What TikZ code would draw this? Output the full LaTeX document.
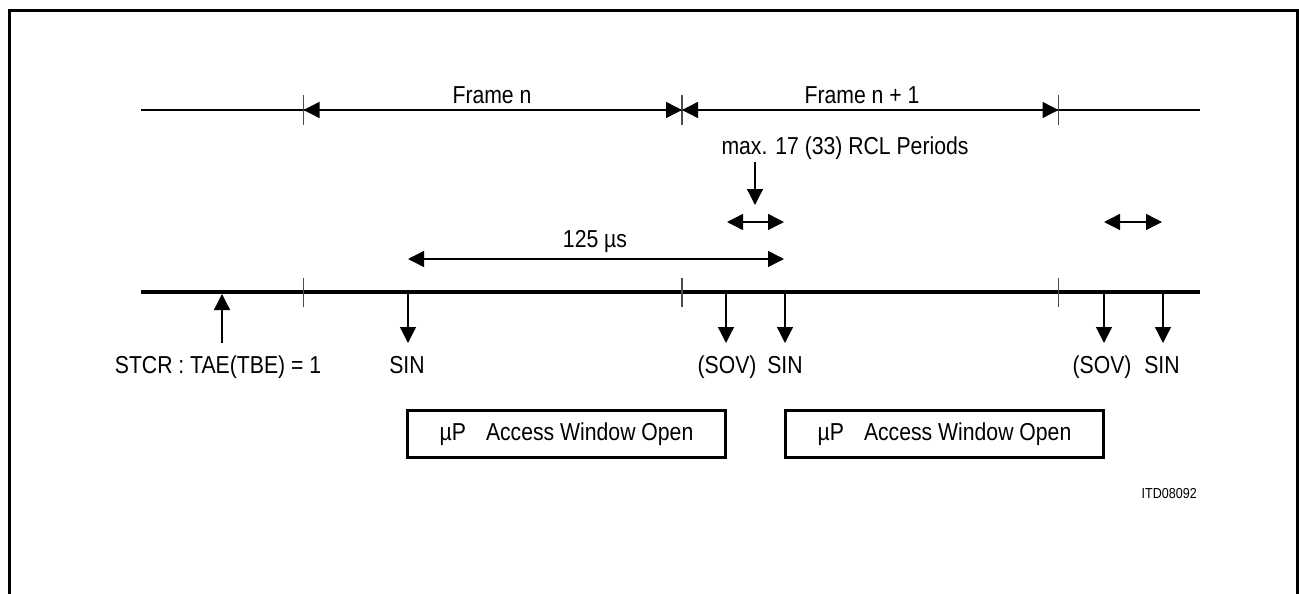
\documentclass[tikz,border=0pt]{standalone}
\usepackage{fontspec}
\setmainfont[FakeStretch=0.865]{Liberation Sans}
\usetikzlibrary{arrows.meta}
\begin{document}
\begin{tikzpicture}[x=1pt,y=-1pt,
  lbl/.style={font=\fontsize{24.5}{29}\selectfont, inner sep=0pt, anchor=base},
  smalllbl/.style={font=\fontsize{14.5}{17}\selectfont, inner sep=0pt, anchor=base east},
  thinline/.style={line width=1.5pt},
  mainline/.style={line width=4pt},
  tickmark/.style={line width=1.4pt, black!70},
  arr/.style={line width=1.3pt, -{Triangle[length=16pt,width=16pt]}},
  dblarr/.style={line width=1.4pt, {Triangle[length=16pt,width=16pt]}-{Triangle[length=16pt,width=16pt]}},
  winbox/.style={draw, line width=3pt, minimum width=318pt, minimum height=47pt, inner sep=0pt,
    font=\fontsize{24.5}{29}\selectfont},
]
\useasboundingbox (0,0) rectangle (1299,594);
% outer frame
\draw[line width=3pt] (9.5,594) -- (9.5,11) -- (1297,11) -- (1297,594);

% ---- frame line (top)
\coordinate (fl) at (141,110);
\coordinate (fr) at (1200,110);
\coordinate (fa) at (303.5,110);
\coordinate (fb) at (682,110);
\coordinate (fc) at (1058.5,110);
\draw[thinline] (fl) -- (fr);
\foreach \c in {fa,fb,fc} \draw[tickmark] ([yshift=-15pt]\c) -- ([yshift=15pt]\c);
\draw[dblarr] (fa) -- (fb);
\draw[dblarr] (fb) -- (fc);
\node[lbl] (framen) at (492,103) {Frame n};
\node[lbl] (framen1) at (862,103) {Frame n + 1};

% ---- max. RCL periods
\node[lbl] (maxlbl) at (845,154) {max. 17 (33) RCL Periods};
\coordinate (maxtop) at (755,162);
\coordinate (maxtip) at (755,205);
\draw[arr] (maxtop) -- (maxtip);
\coordinate (d1l) at (727,222);
\coordinate (d1r) at (784,222);
\draw[dblarr] (d1l) -- (d1r);
\coordinate (d2l) at (1104,222);
\coordinate (d2r) at (1162,222);
\draw[dblarr] (d2l) -- (d2r);

% ---- 125 us
\node[lbl] (uslbl) at (595,247) {125 µs};
\coordinate (usl) at (408,259);
\coordinate (usr) at (784,259);
\draw[dblarr] (usl) -- (usr);

% ---- main time line
\coordinate (ml) at (141,292);
\coordinate (mr) at (1200,292);
\draw[mainline] (ml) -- (mr);
\coordinate (ma) at (303.5,292);
\coordinate (mb) at (682,292);
\coordinate (mc) at (1058.5,292);
\foreach \c in {ma,mb,mc} \draw[tickmark] ([yshift=-15pt]\c) -- ([yshift=14pt]\c);

% events
\coordinate (stcr) at (222,294);
\coordinate (stcrb) at (222,343);
\draw[arr] (stcrb) -- (stcr);
\node[lbl] (stcrlbl) at (218,373) {STCR : TAE(TBE) = 1};

\foreach \n/\x in {sin1/408, sov1/726, sin2/785, sov2/1104, sin3/1163} {
  \coordinate (\n t) at (\x,294);
  \coordinate (\n b) at (\x,343);
  \draw[arr] (\n t) -- (\n b);
}
\node[lbl] (sin1lbl) at (407,373) {SIN};
\node[lbl] (sov1lbl) at (727,373) {(SOV)};
\node[lbl] (sin2lbl) at (785,373) {SIN};
\node[lbl] (sov2lbl) at (1102,373) {(SOV)};
\node[lbl] (sin3lbl) at (1162,373) {SIN};

% ---- access windows
\node[winbox] (win1) at (566.5,434) {µP\hspace*{20pt}Access Window Open};
\node[winbox] (win2) at (944.5,434) {µP\hspace*{20pt}Access Window Open};

\node[smalllbl] (itd) at (1197,498) {ITD08092};
\end{tikzpicture}
\end{document}
